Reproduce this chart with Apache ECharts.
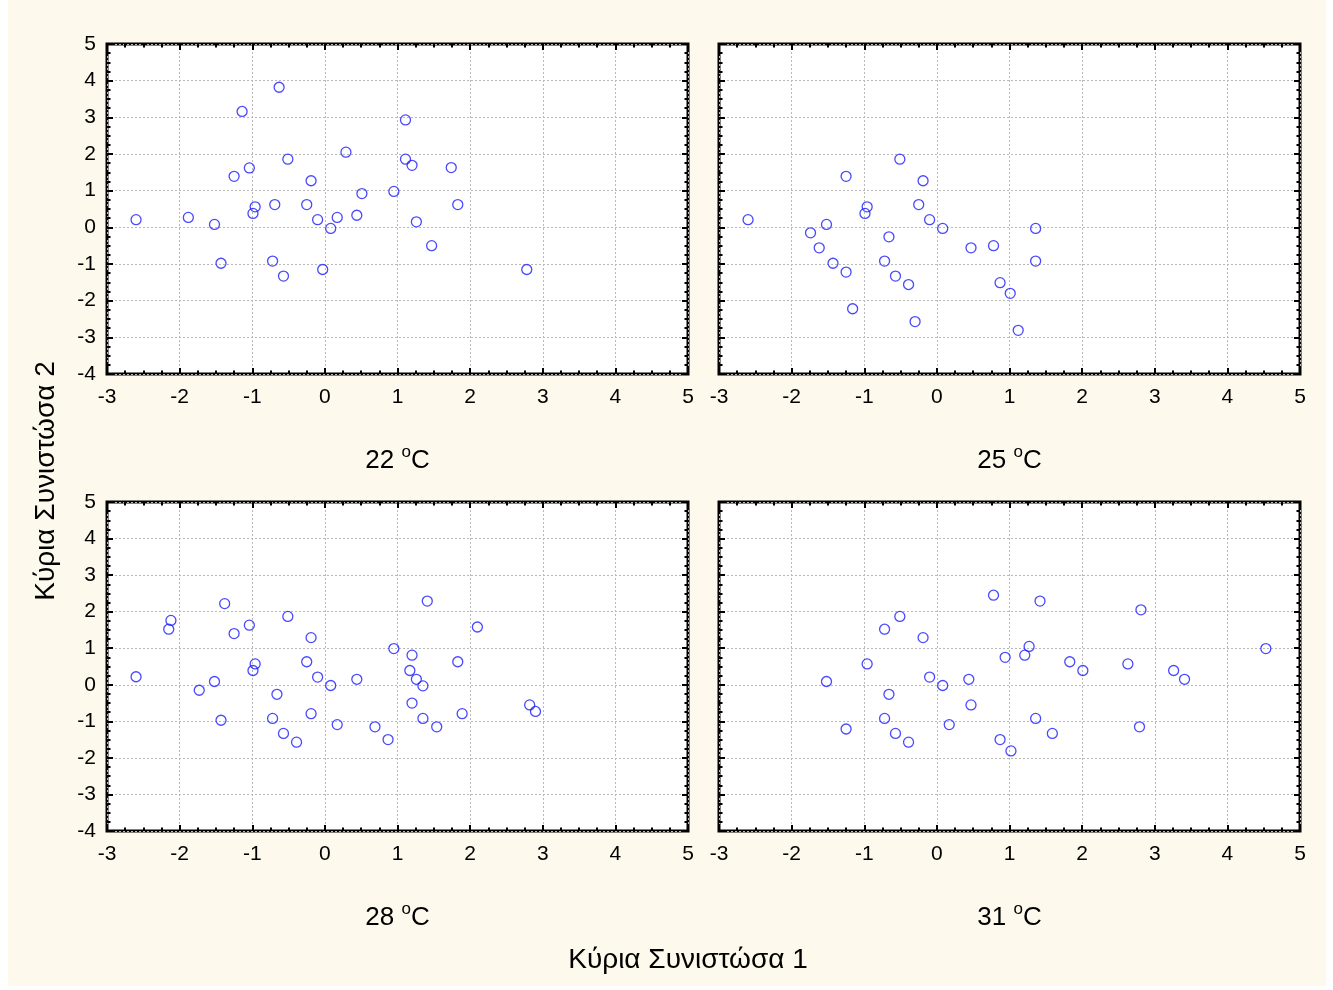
<!DOCTYPE html>
<html><head><meta charset="utf-8">
<script src="https://cdn.jsdelivr.net/npm/echarts@6/dist/echarts.min.js"></script>
<style>html,body{margin:0;padding:0;background:#fff}#c{width:1333px;height:990px}</style>
</head><body><div id="c"></div>
<script>
// Panel temperatures
const temps = ['22', '25', '28', '31'];
const xTitle = 'Κύρια Συνιστώσα 1';
const yTitle = 'Κύρια Συνιστώσα 2';

// Data (PC1, PC2)
const t22 = [
  [-2.60,0.21],[-1.88,0.27],[-1.52,0.08],[-1.43,-0.98],[-1.25,1.39],[-1.14,3.16],[-1.04,1.62],
  [-0.96,0.56],[-0.99,0.38],[-0.72,-0.92],[-0.69,0.62],[-0.63,3.82],[-0.57,-1.33],[-0.51,1.86],
  [-0.25,0.62],[-0.19,1.27],[-0.10,0.21],[-0.03,-1.15],[0.08,-0.03],[0.17,0.27],[0.29,2.05],
  [0.44,0.33],[0.51,0.92],[0.95,0.98],[1.11,2.93],[1.11,1.86],[1.20,1.69],[1.74,1.63],
  [1.83,0.62],[1.26,0.15],[1.47,-0.50],[2.78,-1.15]
];
const t25 = [
  [-2.60,0.21],[-1.74,-0.15],[-1.62,-0.56],[-1.52,0.08],[-1.43,-0.98],[-1.25,1.39],[-1.25,-1.22],
  [-1.16,-2.22],[-0.96,0.56],[-0.99,0.38],[-0.72,-0.92],[-0.66,-0.26],[-0.57,-1.33],[-0.51,1.86],
  [-0.39,-1.56],[-0.30,-2.57],[-0.25,0.62],[-0.19,1.27],[-0.10,0.21],[0.08,-0.03],[0.47,-0.56],
  [0.78,-0.50],[0.87,-1.51],[1.01,-1.80],[1.36,-0.03],[1.36,-0.92],[1.12,-2.81]
];
const t28 = [
  [-2.60,0.22],[-2.12,1.76],[-2.15,1.52],[-1.73,-0.15],[-1.52,0.09],[-1.43,-0.97],[-1.38,2.22],
  [-1.25,1.40],[-1.04,1.63],[-0.96,0.57],[-0.99,0.39],[-0.72,-0.92],[-0.66,-0.26],[-0.57,-1.33],
  [-0.51,1.87],[-0.39,-1.57],[-0.25,0.63],[-0.19,1.29],[-0.19,-0.79],[-0.10,0.21],[0.08,-0.02],
  [0.17,-1.09],[0.44,0.15],[0.69,-1.15],[0.87,-1.50],[0.95,0.99],[1.41,2.29],[2.10,1.58],
  [1.20,0.81],[1.83,0.63],[1.17,0.39],[1.26,0.15],[1.35,-0.03],[1.20,-0.50],[1.35,-0.92],
  [1.54,-1.15],[1.89,-0.79],[2.82,-0.55],[2.90,-0.73]
];
const t31 = [
  [-1.52,0.09],[-1.25,-1.21],[-0.96,0.57],[-0.72,1.52],[-0.72,-0.92],[-0.66,-0.26],[-0.57,-1.33],
  [-0.51,1.87],[-0.39,-1.57],[-0.19,1.29],[-0.10,0.21],[0.08,-0.02],[0.17,-1.09],[0.44,0.15],
  [0.47,-0.55],[0.78,2.45],[0.87,-1.50],[0.94,0.75],[1.02,-1.81],[1.42,2.29],[1.27,1.05],
  [1.21,0.81],[1.83,0.63],[2.01,0.39],[1.36,-0.92],[1.59,-1.33],[2.63,0.57],[2.81,2.05],
  [2.79,-1.15],[3.26,0.39],[3.41,0.15],[4.53,0.99]
];
const panels = [t22, t25, t28, t31];

const xMin = -3, xMax = 5, yMin = -4, yMax = 5, step = 1;

const FONT = 'Liberation Sans, Arial, sans-serif';
const grids = [
  {left:107, top:44, width:581, height:330},
  {left:719, top:44, width:581, height:330},
  {left:107, top:502, width:581, height:329},
  {left:719, top:502, width:581, height:329}
].map(g => Object.assign(g, {show:true, backgroundColor:'#fff', borderColor:'#000', borderWidth:3, containLabel:false}));

const tick = {show:true, inside:true, length:6, lineStyle:{color:'#000', width:2}};
const minor = {show:true, splitNumber:4, length:3.5, lineStyle:{color:'#000', width:2}};
const split = {show:true, lineStyle:{color:'#b8b8b8', width:1, type:[2,2]}};
const noLine = {show:false, onZero:false};

const xAxes = [], yAxes = [], series = [];
panels.forEach((d, i) => {
  xAxes.push({
    type:'value', gridIndex:i, position:'bottom', min:xMin, max:xMax, interval:step,
    axisLine:noLine, axisTick:tick, minorTick:minor, splitLine:split,
    axisLabel:{color:'#000', fontSize:21, fontFamily:FONT, margin:13},
    name: '{n|' + temps[i] + ' }{s|o}{n|C}', nameLocation:'middle', nameGap:70,
    nameTextStyle:{color:'#000', fontSize:26, fontFamily:FONT,
      rich:{
        n:{fontSize:26, fontFamily:FONT, color:'#000', verticalAlign:'bottom', lineHeight:30},
        s:{fontSize:17, fontFamily:FONT, color:'#000', verticalAlign:'top', lineHeight:4}
      }}
  });
  xAxes.push({
    type:'value', gridIndex:i, position:'top', min:xMin, max:xMax, interval:step,
    axisLine:noLine, axisTick:tick, minorTick:minor, splitLine:{show:false},
    axisLabel:{show:false}
  });
  yAxes.push({
    type:'value', gridIndex:i, position:'left', min:yMin, max:yMax, interval:step,
    axisLine:noLine, axisTick:tick, minorTick:minor, splitLine:split,
    axisLabel:{show: i % 2 === 0, color:'#000', fontSize:21, fontFamily:FONT, margin:11}
  });
  yAxes.push({
    type:'value', gridIndex:i, position:'right', min:yMin, max:yMax, interval:step,
    axisLine:noLine, axisTick:tick, minorTick:minor, splitLine:{show:false},
    axisLabel:{show:false}
  });
  series.push({
    type:'scatter', xAxisIndex:2*i, yAxisIndex:2*i, data:d,
    symbol:'circle', symbolSize:10,
    itemStyle:{color:'rgba(0,0,0,0)', borderColor:'#1c1cff', borderWidth:1.3},
    emphasis:{disabled:true}, silent:true
  });
});

const chart = echarts.init(document.getElementById('c'), null, {renderer:'canvas'});
chart.setOption({
  animation:false,
  backgroundColor:'#fff',
  grid:grids, xAxis:xAxes, yAxis:yAxes, series:series,
  graphic:[
    {type:'rect', z:-10, silent:true, shape:{x:8, y:0, width:1318, height:986}, style:{fill:'#fef9ed'}},
    {type:'text', x:46, y:481, rotation:Math.PI/2, silent:true,
      style:{text:yTitle, font:'28px ' + FONT, fill:'#000', align:'center', verticalAlign:'middle'}},
    {type:'text', x:688, y:960, silent:true,
      style:{text:xTitle, font:'28px ' + FONT, fill:'#000', align:'center', verticalAlign:'middle'}}
  ]
});
</script>
</body></html>
